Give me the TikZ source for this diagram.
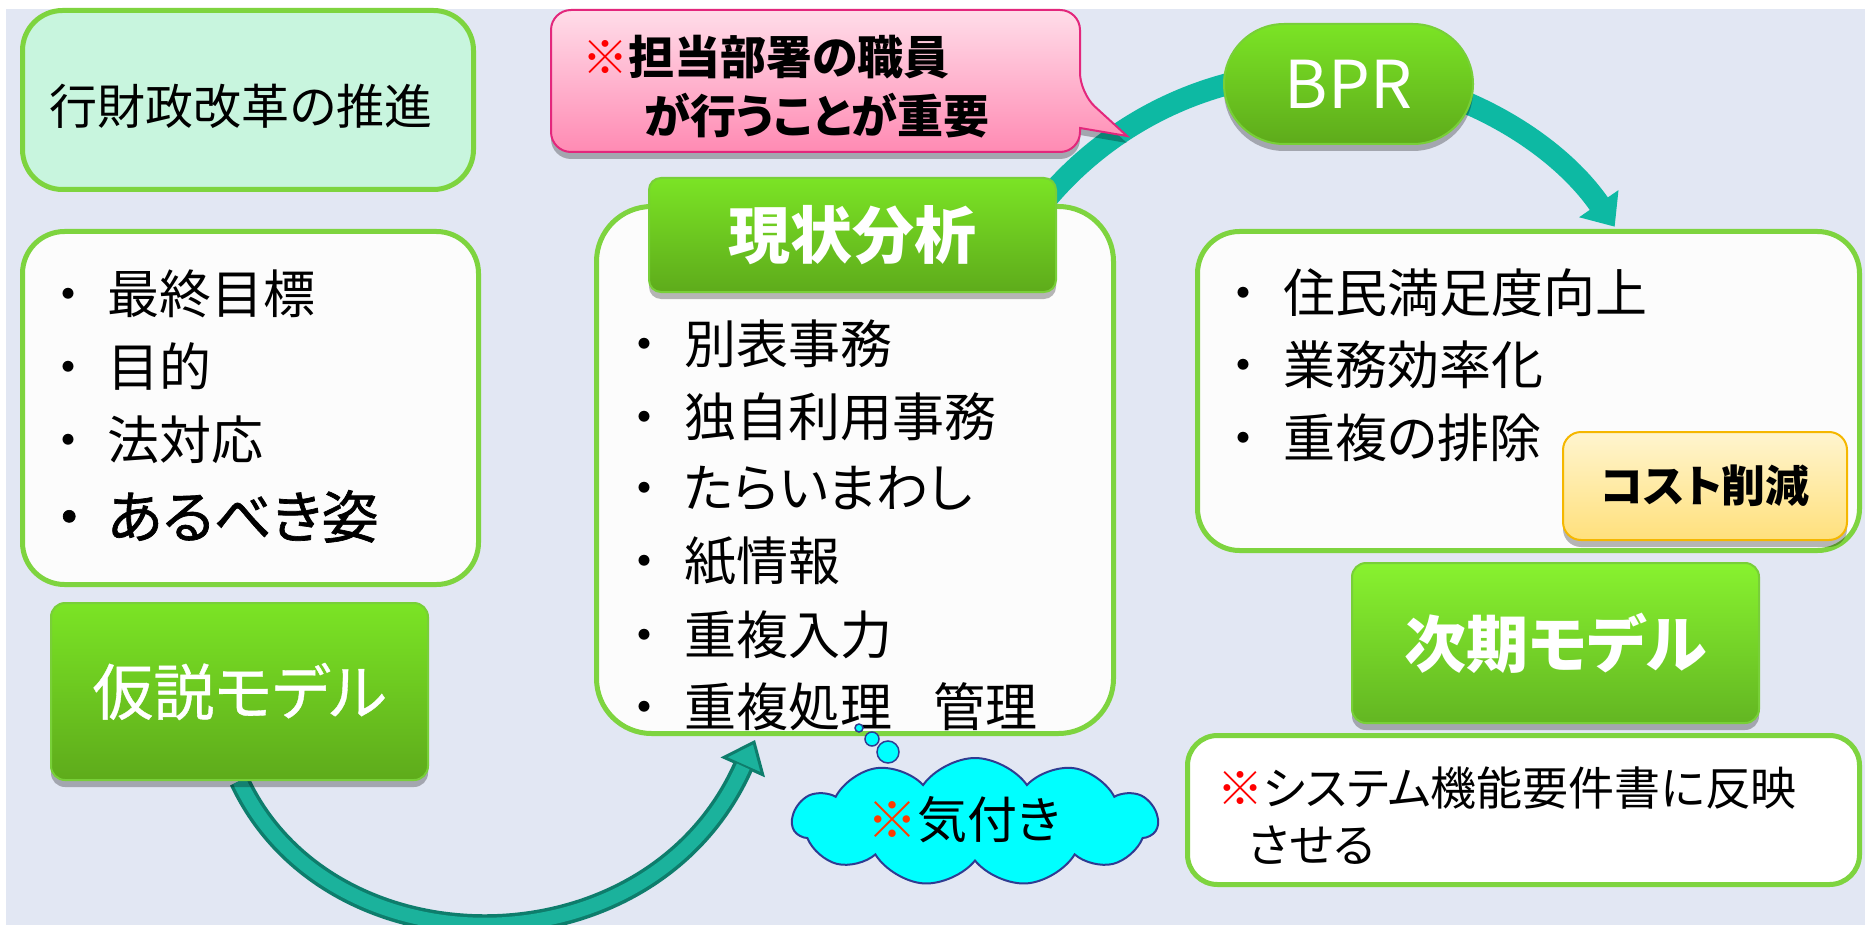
\documentclass[tikz,border=0pt]{standalone}
\usepackage{fontspec}
\setmainfont{Noto Sans CJK JP}[RawFeature=+palt]
\usetikzlibrary{shapes.symbols,shadows,arrows.meta}
\definecolor{bgc}{HTML}{E2E7F3}
\definecolor{grline}{HTML}{7ED43F}
\definecolor{mint}{HTML}{C8F5DE}
\definecolor{listfill}{HTML}{FCFCFC}
\definecolor{grtop}{HTML}{7BE425}
\definecolor{grbot}{HTML}{5EAB1B}
\definecolor{grtopb}{HTML}{88F22F}
\definecolor{grbotb}{HTML}{63B622}
\definecolor{grrim}{HTML}{78CF38}
\definecolor{teallt}{HTML}{1BB29C}
\definecolor{tealdk}{HTML}{0E7D6C}
\definecolor{tealarc}{HTML}{0DB9A3}
\definecolor{pinktop}{HTML}{FFDDE9}
\definecolor{pinkbot}{HTML}{FF8AB3}
\definecolor{pinkline}{HTML}{E3277C}
\definecolor{ylwtop}{HTML}{FFF5CF}
\definecolor{ylwbot}{HTML}{FFE07C}
\definecolor{ylwline}{HTML}{F5B700}
\definecolor{cloudfill}{HTML}{00FFFF}
\definecolor{cloudline}{HTML}{2F3C92}
\definecolor{kome}{HTML}{FF0000}
\definecolor{komeo}{HTML}{FF3A00}
\pgfdeclarelayer{back}
\pgfdeclarelayer{bg}
\pgfsetlayers{back,bg,main}
\newcommand\itm[2]{\makebox[0pt]{・}\hspace{#1pt}#2}
\tikzset{
  shadowed/.style={drop shadow={shadow xshift=0pt, shadow yshift=-7pt, opacity=0.28, fill=black}},
  greenbox/.style={rectangle, rounded corners=14pt, draw=grrim, line width=2pt, top color=grtop, bottom color=grbot, text=white, inner sep=0pt, shadowed},
  listbox/.style={rectangle, rounded corners=42pt, draw=grline, line width=5pt, fill=listfill, inner sep=0pt},
  item/.style={anchor=base west, inner sep=0pt, text=black, font=\fontsize{52}{60}\selectfont},
  tline/.style={anchor=base west, inner sep=0pt, text=black},
  bubble/.style={circle, draw=cloudline, line width=1.5pt, fill=cloudfill, inner sep=0pt},
}
\begin{document}
\begin{tikzpicture}[x=1pt,y=1pt]
\useasboundingbox (0,0) rectangle (1865,-925);
\begin{pgfonlayer}{back}
\fill[white] (0,0) rectangle (1865,-925);
\fill[bgc] (6,-9) rectangle (1865,-925);
\end{pgfonlayer}

% left column
\node[listbox, fill=mint, rounded corners=40pt, minimum width=451pt, minimum height=179pt] (reform) at (248,-100) {};
\node[tline, anchor=center, font=\fontsize{48}{52}\selectfont] (reformtxt) at (241,-106) {行財政改革の推進};

\node[listbox, minimum width=456pt, minimum height=353pt] (goals) at (250.5,-408) {};
\node[item] (g1) at (68,-313) {\itm{39}{最終目標}};
\node[item] (g2) at (68,-386) {\itm{39}{目的}};
\node[item] (g3) at (68,-459) {\itm{39}{法対応}};
\node[item, font=\fontsize{57}{60}\selectfont\addfontfeatures{FakeBold=1.2}] (g4) at (69,-538) {\itm{38}{あるべき姿}};

\node[greenbox, minimum width=377pt, minimum height=177pt, font=\fontsize{61}{64}\selectfont\addfontfeatures{FakeBold=0.6}] (kasetsu) at (239.5,-691.5) {仮説モデル};

% middle column
\node[listbox, rounded corners=55pt, minimum width=517pt, minimum height=527pt] (genjo) at (855,-470) {};
\node[greenbox, rounded corners=12pt, minimum width=407pt, minimum height=114pt, font=\fontsize{62}{66}\selectfont\bfseries] (genjohd) at (852.5,-235) {現状分析};
\node[item] (m1) at (644,-363) {\itm{40}{別表事務}};
\node[item] (m2) at (644,-436) {\itm{40}{独自利用事務}};
\node[item] (m3) at (644,-507) {\itm{40}{たらいまわし}};
\node[item] (m4) at (644,-580) {\itm{40}{紙情報}};
\node[item] (m5) at (644,-654) {\itm{40}{重複入力}};
\node[item] (m6) at (644,-726) {\itm{40}{重複処理\hspace{41pt}管理}};

% callout
\path[draw=pinkline, line width=2pt, top color=pinktop, bottom color=pinkbot, shadowed, rounded corners=20pt]
  (551,-10) -- (1080,-10) -- (1080,-93) [sharp corners] -- (1127,-136) -- (1080,-128) [rounded corners=20pt] -- (1080,-152) -- (551,-152) -- cycle;
\node[tline, font=\fontsize{46}{50}\selectfont\bfseries] (cl1) at (582,-75) {\textcolor{kome}{\mdseries ※}担当部署の職員};
\node[tline, font=\fontsize{46}{50}\selectfont\bfseries] (cl2) at (644,-134) {が行うことが重要};

% BPR
\node[greenbox, rounded corners=60pt, minimum width=249pt, minimum height=120pt, font=\fontsize{66}{70}\selectfont] (bpr) at (1348.5,-84) {BPR};

% right column
\node[listbox, minimum width=662pt, minimum height=319pt] (effect) at (1528.5,-391) {};
\node[item] (e1) at (1243,-312) {\itm{40}{住民満足度向上}};
\node[item] (e2) at (1243,-384) {\itm{40}{業務効率化}};
\node[item] (e3) at (1243,-457) {\itm{40}{重複の排除}};
\node[rectangle, rounded corners=18pt, draw=ylwline, line width=2pt, top color=ylwtop, bottom color=ylwbot, minimum width=284pt, minimum height=108pt, inner sep=0pt, shadowed, font=\fontsize{44}{48}\selectfont\bfseries] (cost) at (1705,-486) {コスト削減};

\node[greenbox, top color=grtopb, bottom color=grbotb, minimum width=407pt, minimum height=160pt, font=\fontsize{62}{66}\selectfont\bfseries] (jiki) at (1555.5,-643) {次期モデル};

\node[listbox, fill=white, rounded corners=30pt, minimum width=672pt, minimum height=149pt] (req) at (1523.5,-810) {};
\node[tline, font=\fontsize{46}{50}\selectfont] (r1) at (1217,-805) {\textcolor{kome}{※}システム機能要件書に反映};
\node[tline, font=\fontsize{46}{50}\selectfont] (r2) at (1248,-862) {させる};

% cloud
\node[cloud, cloud puffs=11, cloud puff arc=110, aspect=2.85, draw=cloudline, line width=2pt, fill=cloudfill, minimum width=365pt, minimum height=128pt, inner sep=0pt] (cloud) at (975,-822) {};
\node[tline, font=\fontsize{50}{54}\selectfont] (kizuki) at (867,-838) {\textcolor{komeo}{※}気付き};
\node[bubble, minimum size=8pt] (b1) at (859,-728) {};
\node[bubble, minimum size=14pt] (b2) at (872,-739) {};
\node[bubble, minimum size=22pt] (b3) at (888,-752) {};

% connectors
\coordinate (t1) at (755,-740);
\coordinate (arcS) at (1041.8,-204.7);
\begin{pgfonlayer}{bg}
\draw[line width=21pt, draw=tealdk, -{Triangle[length=30pt,width=48pt,line width=3pt,fill=teallt]}]
  (kasetsu.south) .. controls (330,-975) and (650,-975) .. (t1);
\draw[line width=14pt, draw=teallt, shorten >=29pt]
  (kasetsu.south) .. controls (330,-975) and (650,-975) .. (t1);
\draw[line width=22pt, draw=tealarc, -{Triangle[length=28pt,width=46pt]}]
  (arcS) arc[start angle=141, end angle=34.6, radius=358pt];
\end{pgfonlayer}
\end{tikzpicture}
\end{document}
